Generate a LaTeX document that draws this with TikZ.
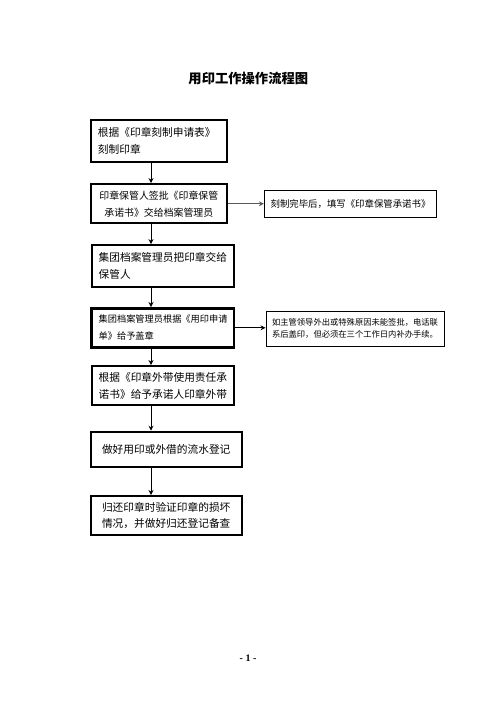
\documentclass[tikz,border=0pt]{standalone}
\usepackage{fontspec}
\setmainfont{Noto Sans CJK SC}
\newfontfamily\pagefont{Liberation Serif}
\usetikzlibrary{arrows.meta,calc}
\tikzset{
  mainbox/.style={draw, line width=2pt, inner sep=0pt, font=\fontsize{10.7}{16.8}\selectfont},
  sidebox/.style={draw, line width=0.9pt, inner sep=0pt},
  arr/.style={line width=0.9pt, -{Stealth[length=5pt,width=5pt]}}
}
\begin{document}
\begin{tikzpicture}[x=1pt,y=-1pt]
\useasboundingbox (0,0) rectangle (496,702);
\node[font=\fontsize{13.3}{14}\selectfont\bfseries] (title) at (248.3,78.3) {用印工作操作流程图};
\coordinate (ax) at (151,0);

\node[mainbox, minimum width=135.7pt, minimum height=41.7pt, text width=121.7pt, align=left] (b1) at (158.8,140.8)
  {根据《印章刻制申请表》\\刻制印章};
\node[mainbox, minimum width=135.7pt, minimum height=39.3pt, text width=121.7pt, align=center, font=\fontsize{9.9}{17}\selectfont] (b2) at (158.8,203.7)
  {印章保管人签批《印章保管\\承诺书》交给档案管理员};
\node[mainbox, minimum width=142.3pt, minimum height=42.3pt, text width=128.3pt, align=left] (b3) at (162.8,266.2)
  {集团档案管理员把印章交给\\保管人};
\node[mainbox, line width=2.6pt, minimum width=142.3pt, minimum height=39pt, text width=128.3pt, align=left, font=\fontsize{9.2}{17}\selectfont] (b4) at (162.8,327.8)
  {集团档案管理员根据《用印申请\\单》给予盖章};
\node[mainbox, minimum width=142.3pt, minimum height=39pt, text width=128.3pt, align=left] (b5) at (162.8,385.5)
  {根据《印章外带使用责任承\\诺书》给予承诺人印章外带};
\node[mainbox, minimum width=151pt, minimum height=35pt, text width=137pt, align=center] (b6) at (166.2,449.2)
  {做好用印或外借的流水登记};
\node[mainbox, minimum width=151pt, minimum height=39pt, text width=137pt, align=center] (b7) at (166.2,515.5)
  {归还印章时验证印章的损坏\\情况，并做好归还登记备查};

\node[sidebox, minimum width=172.4pt, minimum height=26.6pt, text width=160pt, align=center, font=\fontsize{9.4}{12}\selectfont] (s1) at (350.5,204)
  {刻制完毕后，填写《印章保管承诺书》};
\node[sidebox, minimum width=178pt, minimum height=35pt, text width=166pt, align=left, font=\fontsize{8.3}{12.6}\selectfont] (s2) at (355,328.5)
  {如主管领导外出或特殊原因未能签批，电话联\\系后盖印，但必须在三个工作日内补办手续。};

\draw[arr] (b1.south -| ax) -- (b2.north -| ax);
\draw[arr] (b2.south -| ax) -- (b3.north -| ax);
\draw[arr] (b3.south -| ax) -- (b4.north -| ax);
\draw[arr] (b4.south -| ax) -- (b5.north -| ax);
\draw[arr] (b5.south -| ax) -- (b6.north -| ax);
\draw[arr] (b6.south -| ax) -- (b7.north -| ax);
\draw[arr, draw=black!65, line width=1.4pt] (b2.east) -- (b2.east -| s1.west);
\draw[arr] (b4.east) -- (b4.east -| s2.west);

\node[font=\pagefont\bfseries\fontsize{10}{12}\selectfont] (pg) at (248,658) {- 1 -};
\end{tikzpicture}
\end{document}
